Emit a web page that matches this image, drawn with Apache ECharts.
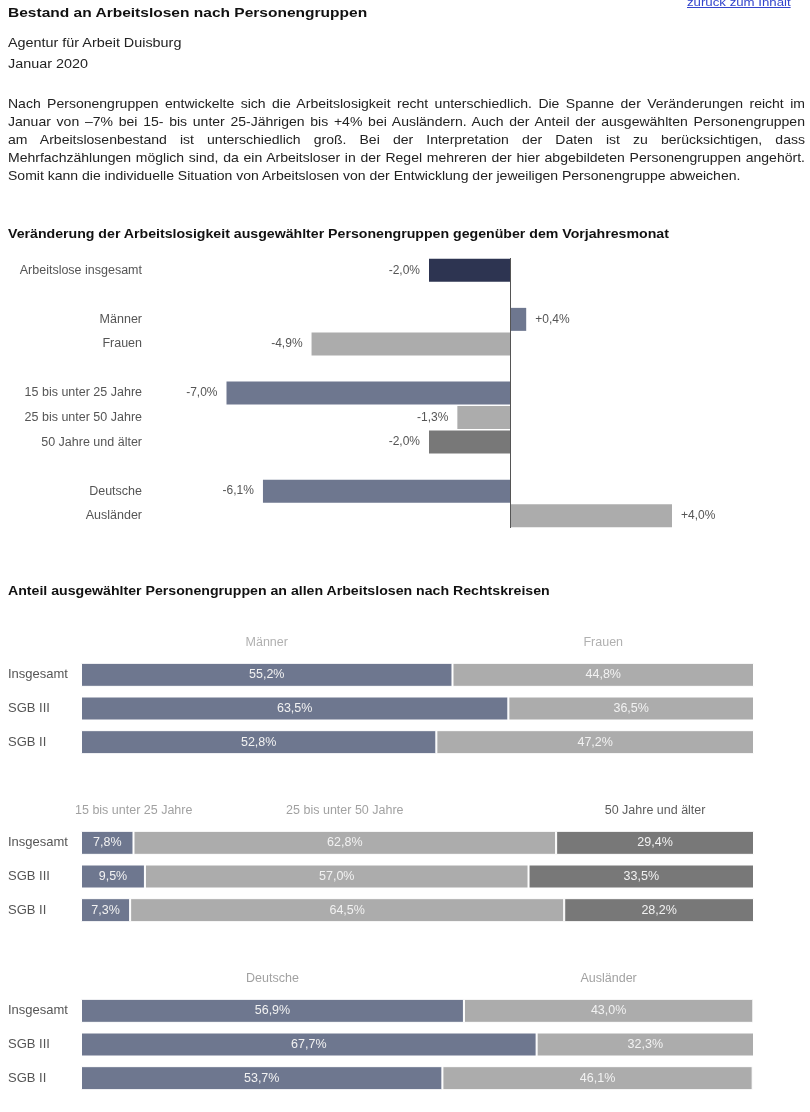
<!DOCTYPE html>
<html>
<head>
<meta charset="utf-8">
<script src="https://cdn.jsdelivr.net/npm/echarts@6/dist/echarts.min.js"></script>
<style>
  html, body { margin:0; padding:0; background:#fff; }
  body { width:810px; height:1112px; position:relative; overflow:hidden; font-family:'Liberation Sans', Arial, sans-serif; color:#111; }
  #chart { position:absolute; left:0; top:0; width:810px; height:1112px; }
  .t { position:absolute; white-space:nowrap; transform:scaleX(1.15); transform-origin:0 0; }
  #para { position:absolute; left:8px; top:95px; width:693px; font-size:12.2px; line-height:18px; text-align:justify; color:#222; transform:scaleX(1.15); transform-origin:0 0; }
  #para div { text-align:justify; text-align-last:justify; }
  #para div:last-child { text-align-last:left; }
</style>
</head>
<body>
<div id="chart"></div>
<div class="t" style="left:8px;top:5px;font-size:13.5px;font-weight:bold;">Bestand an Arbeitslosen nach Personengruppen</div>
<div class="t" style="left:687px;top:-4px;font-size:11.5px;color:#3344cc;text-decoration:underline;">zurück zum Inhalt</div>
<div class="t" style="left:8px;top:36px;font-size:12.5px;color:#222;">Agentur für Arbeit Duisburg</div>
<div class="t" style="left:8px;top:57px;font-size:12.5px;color:#222;">Januar 2020</div>
<div id="para">
<div>Nach Personengruppen entwickelte sich die Arbeitslosigkeit recht unterschiedlich. Die Spanne der Veränderungen reicht im</div>
<div>Januar von –7% bei 15- bis unter 25-Jährigen bis +4% bei Ausländern. Auch der Anteil der ausgewählten Personengruppen</div>
<div>am Arbeitslosenbestand ist unterschiedlich groß. Bei der Interpretation der Daten ist zu berücksichtigen, dass</div>
<div>Mehrfachzählungen möglich sind, da ein Arbeitsloser in der Regel mehreren der hier abgebildeten Personengruppen angehört.</div>
<div>Somit kann die individuelle Situation von Arbeitslosen von der Entwicklung der jeweiligen Personengruppe abweichen.</div>
</div>
<div class="t" style="left:8px;top:227px;font-size:12.3px;font-weight:bold;">Veränderung der Arbeitslosigkeit ausgewählter Personengruppen gegenüber dem Vorjahresmonat</div>
<div class="t" style="left:8px;top:584px;font-size:12.3px;font-weight:bold;">Anteil ausgewählter Personengruppen an allen Arbeitslosen nach Rechtskreisen</div>
<script>
// ---------- data ----------
const changeCategories = ['Arbeitslose insgesamt','Männer','Frauen','15 bis unter 25 Jahre','25 bis unter 50 Jahre','50 Jahre und älter','Deutsche','Ausländer'];
const changeValues = [-2.0, 0.4, -4.9, -7.0, -1.3, -2.0, -6.1, 4.0];
const changeGroupSizes = [1, 2, 3, 2];

const rowLabels = ['Insgesamt','SGB III','SGB II'];

const sexNames = ['Männer','Frauen'];
const sexMen = [55.2, 63.5, 52.8];
const sexWomen = [44.8, 36.5, 47.2];

const ageNames = ['15 bis unter 25 Jahre','25 bis unter 50 Jahre','50 Jahre und älter'];
const age15to25 = [7.8, 9.5, 7.3];
const age25to50 = [62.8, 57.0, 64.5];
const age50plus = [29.4, 33.5, 28.2];

const natNames = ['Deutsche','Ausländer'];
const natGerman = [56.9, 67.7, 53.7];
const natForeign = [43.0, 32.3, 46.1];

// ---------- styles ----------
const FONT = "'Liberation Sans', Arial, sans-serif";
const C_DARK = '#2d3451', C_SLATE = '#6e778f', C_LIGHT = '#acacac', C_GRAY = '#787878';
const changeColors = [C_DARK, C_SLATE, C_LIGHT, C_SLATE, C_LIGHT, C_GRAY, C_SLATE, C_LIGHT];

const fmt = v => (v > 0 ? '+' : '') + v.toFixed(1).replace('.', ',') + '%';
const fmtP = v => v.toFixed(1).replace('.', ',') + '%';

// build category axis with spacer rows between groups
const axisCats = [], axisData = [];
let k = 0;
changeGroupSizes.forEach((n, gi) => {
  if (gi > 0) { axisCats.push(' '.repeat(gi)); axisData.push('-'); }
  for (let i = 0; i < n; i++, k++) {
    axisCats.push(changeCategories[k]);
    axisData.push({
      value: changeValues[k],
      itemStyle: { color: changeColors[k] },
      label: { position: changeValues[k] < 0 ? 'left' : 'right' }
    });
  }
});

const chart = echarts.init(document.getElementById('chart'), null, { renderer: 'canvas' });

const G2_LEFT = 81, G2_WIDTH = 673;
const HEAD_SIZE = 12.5;
const stackGrids = [
  { top: 658, names: sexNames, values: [sexMen, sexWomen], colors: [C_SLATE, C_LIGHT], headColors: ['#9c9c9c', '#9c9c9c'] },
  { top: 826, names: ageNames, values: [age15to25, age25to50, age50plus], colors: [C_SLATE, C_LIGHT, C_GRAY], headColors: ['#8a8a8a', '#8a8a8a', '#333'] },
  { top: 994, names: natNames, values: [natGerman, natForeign], colors: [C_SLATE, C_LIGHT], headColors: ['#8a8a8a', '#8a8a8a'] }
];

const ctx = document.createElement('canvas').getContext('2d');
ctx.font = HEAD_SIZE + 'px ' + FONT;

const grids = [{ left: 186, width: 567, top: 258, height: 270 }];
const xAxes = [{ gridIndex: 0, type: 'value', min: -8, max: 6, show: false }];
const yAxes = [{
  gridIndex: 0, type: 'category', inverse: true, data: axisCats,
  axisLine: { show: false }, axisTick: { show: false },
  axisLabel: { margin: 44, color: '#555', fontSize: 12.5, fontFamily: FONT }
}];
const series = [{
  type: 'bar', xAxisIndex: 0, yAxisIndex: 0, data: axisData, barWidth: 23,
  label: { show: true, distance: 9, color: '#555', fontSize: 12, fontFamily: FONT, formatter: p => fmt(p.value) },
  markLine: {
    silent: true, symbol: 'none', label: { show: false },
    lineStyle: { color: '#555', width: 1, type: 'solid' },
    data: [{ xAxis: 0 }]
  }
}];

stackGrids.forEach((g, gi) => {
  const idx = gi + 1;
  grids.push({ left: G2_LEFT, width: G2_WIDTH, top: g.top, height: 101 });
  xAxes.push({ gridIndex: idx, type: 'value', min: 0, max: 100, show: false });
  yAxes.push({
    gridIndex: idx, type: 'category', inverse: true, data: rowLabels,
    axisLine: { show: false }, axisTick: { show: false },
    axisLabel: { align: 'left', margin: 73, color: '#555', fontSize: 13, fontFamily: FONT }
  });
  g.names.forEach((name, si) => {
    series.push({
      type: 'bar', name: name, stack: 'g' + idx, xAxisIndex: idx, yAxisIndex: idx,
      data: g.values[si], barWidth: 24,
      itemStyle: { color: g.colors[si], borderColor: '#fff', borderWidth: 1 },
      label: { show: true, position: 'inside', color: '#f2f2f2', fontSize: 12.5, fontFamily: FONT, formatter: p => fmtP(p.value) }
    });
  });
  // header labels centered over first-row segments
  let cum = 0;
  const heads = g.names.map((name, si) => {
    const v = g.values[si][0];
    const center = cum + v / 2;
    cum += v;
    const w = ctx.measureText(name).width;
    const px = G2_LEFT + center / 100 * G2_WIDTH;
    const minPx = G2_LEFT - 6 + w / 2;
    const dx = px < minPx ? minPx - px : 0;
    return {
      value: [center, 0], name: name,
      label: { offset: [dx, -32], color: g.headColors[si] }
    };
  });
  series.push({
    type: 'scatter', xAxisIndex: idx, yAxisIndex: idx, symbolSize: 0, silent: true,
    data: heads,
    label: { show: true, position: 'inside', fontSize: HEAD_SIZE, fontFamily: FONT, formatter: p => p.name }
  });
});

chart.setOption({
  animation: false,
  textStyle: { fontFamily: FONT },
  grid: grids, xAxis: xAxes, yAxis: yAxes, series: series
});
</script>
</body>
</html>
